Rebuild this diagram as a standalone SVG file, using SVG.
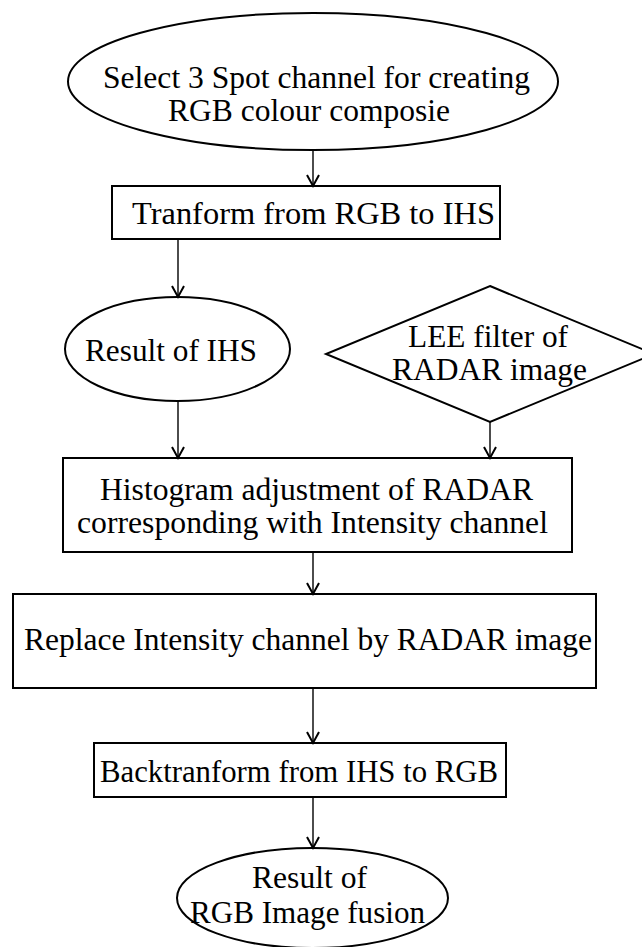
<svg xmlns="http://www.w3.org/2000/svg" width="642" height="947" viewBox="0 0 642 947">
<style>
.shape{fill:#fff;stroke:#000;stroke-width:2}
.lbl{font-family:"Liberation Serif","Times New Roman",Times,serif;font-size:32px;fill:#000;text-anchor:middle}
.conn line{stroke:#000;stroke-width:1.4;fill:none}
</style>
<defs>
<marker id="arr" markerUnits="userSpaceOnUse" markerWidth="16" markerHeight="16" refX="0" refY="0" viewBox="-13 -8 15 16" orient="auto" overflow="visible">
<path d="M-11,-6 L0,0 L-11,6" fill="none" stroke="#000" stroke-width="2"/>
</marker>
</defs>
<rect width="642" height="947" fill="#fff"/>
<g id="n-select">
<ellipse class="shape" cx="313" cy="81.5" rx="245" ry="68.5"/>
<text class="lbl" x="316.5" y="88" textLength="427" lengthAdjust="spacingAndGlyphs">Select 3 Spot channel for creating</text>
<text class="lbl" x="309" y="121" textLength="282" lengthAdjust="spacingAndGlyphs">RGB colour composie</text>
</g>
<g id="n-transform">
<rect class="shape" x="112" y="186" width="388" height="53"/>
<text class="lbl" x="313.5" y="224" textLength="363" lengthAdjust="spacingAndGlyphs">Tranform from RGB to IHS</text>
</g>
<g id="n-result-ihs">
<ellipse class="shape" cx="177.5" cy="349" rx="112.5" ry="52"/>
<text class="lbl" x="171" y="361" textLength="172" lengthAdjust="spacingAndGlyphs">Result of IHS</text>
</g>
<g id="n-lee">
<polygon class="shape" points="490,286 654,354 490,422 326,354"/>
<text class="lbl" x="488" y="347" textLength="160" lengthAdjust="spacingAndGlyphs">LEE filter of</text>
<text class="lbl" x="489.5" y="380" textLength="195" lengthAdjust="spacingAndGlyphs">RADAR image</text>
</g>
<g id="n-histogram">
<rect class="shape" x="63" y="458" width="509" height="94"/>
<text class="lbl" x="316.5" y="500" textLength="433" lengthAdjust="spacingAndGlyphs">Histogram adjustment of RADAR</text>
<text class="lbl" x="312.5" y="533" textLength="471" lengthAdjust="spacingAndGlyphs">corresponding with Intensity channel</text>
</g>
<g id="n-replace">
<rect class="shape" x="13" y="594" width="583" height="94"/>
<text class="lbl" x="308" y="650" textLength="568" lengthAdjust="spacingAndGlyphs">Replace Intensity channel by RADAR image</text>
</g>
<g id="n-back">
<rect class="shape" x="94" y="743" width="412" height="54"/>
<text class="lbl" x="299" y="782" textLength="398" lengthAdjust="spacingAndGlyphs">Backtranform from IHS to RGB</text>
</g>
<g id="n-result-rgb">
<ellipse class="shape" cx="312.5" cy="898" rx="135.5" ry="50"/>
<text class="lbl" x="309.5" y="888" textLength="115" lengthAdjust="spacingAndGlyphs">Result of</text>
<text class="lbl" x="307.5" y="923" textLength="235" lengthAdjust="spacingAndGlyphs">RGB Image fusion</text>
</g>
<g class="conn" id="connectors">
<line x1="313" y1="150" x2="313" y2="186" marker-end="url(#arr)"/>
<line x1="178" y1="239" x2="178" y2="297" marker-end="url(#arr)"/>
<line x1="178" y1="401" x2="178" y2="458" marker-end="url(#arr)"/>
<line x1="490" y1="422" x2="490" y2="458" marker-end="url(#arr)"/>
<line x1="313" y1="552" x2="313" y2="594" marker-end="url(#arr)"/>
<line x1="313" y1="688" x2="313" y2="743" marker-end="url(#arr)"/>
<line x1="313" y1="797" x2="313" y2="848" marker-end="url(#arr)"/>
</g>
</svg>
